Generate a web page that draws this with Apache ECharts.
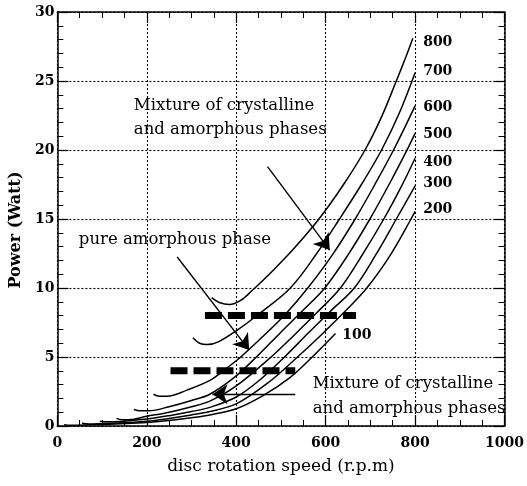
<!DOCTYPE html>
<html>
<head>
<meta charset="utf-8">
<script src="https://cdn.jsdelivr.net/npm/echarts@6/dist/echarts.min.js"></script>
<style>
  html, body { margin: 0; padding: 0; background: #fff; }
  #chart { width: 527px; height: 486px; }
</style>
</head>
<body>
<div id="chart"></div>
<script>
// ============================================
// Data
// ============================================
const xRange = [0, 1000];
const yRange = [0, 30];

// power vs. speed curves, [rpm, watt]
const curve800 = [[345, 9.3], [362, 8.95], [385, 8.8], [410, 9.1], [435, 9.8], [480, 11.2], [530, 12.9], [585, 15], [640, 17.5], [688, 20], [725, 22.4], [758, 25], [780, 26.8], [795, 28.1]];
const curve700 = [[303, 6.4], [318, 6.0], [335, 5.9], [360, 6.1], [400, 6.9], [450, 8.1], [521, 10], [580, 12.5], [631, 15], [680, 17.5], [725, 20], [765, 22.7], [800, 25.6]];
const curve600 = [[215, 2.3], [228, 2.15], [245, 2.15], [290, 2.6], [341, 3.3], [375, 4.1], [410, 5], [460, 6.5], [510, 8.1], [560, 10], [615, 12.4], [666, 15], [710, 17.5], [755, 20.2], [800, 23.2]];
const curve500 = [[171, 1.2], [185, 1.1], [205, 1.1], [250, 1.4], [300, 1.85], [341, 2.3], [395, 3.5], [445, 5], [500, 6.8], [550, 8.4], [598, 10], [650, 12.4], [699, 15], [745, 17.7], [785, 20.2], [800, 21.2]];
const curve400 = [[132, 0.55], [145, 0.45], [160, 0.45], [200, 0.7], [250, 1.0], [300, 1.4], [341, 1.8], [400, 2.9], [478, 5], [530, 6.6], [580, 8.2], [633, 10], [680, 12.3], [730, 15], [770, 17.4], [800, 19.4]];
const curve300 = [[95, 0.35], [110, 0.3], [150, 0.35], [200, 0.5], [250, 0.75], [300, 1.05], [341, 1.35], [400, 2.1], [455, 3.4], [508, 5], [560, 6.7], [610, 8.3], [664, 10], [712, 12.4], [758, 15], [800, 17.4]];
const curve200 = [[55, 0.2], [70, 0.15], [120, 0.2], [200, 0.35], [250, 0.55], [300, 0.8], [341, 1.05], [400, 1.6], [470, 3.1], [537, 5], [590, 6.6], [640, 8.2], [692, 10], [745, 12.4], [791, 15], [800, 15.55]];
const curve100 = [[15, 0.1], [30, 0.05], [100, 0.1], [200, 0.25], [250, 0.4], [300, 0.6], [341, 0.8], [400, 1.25], [460, 2.2], [520, 3.5], [570, 5], [622, 6.7]];

const curveNames = ['800', '700', '600', '500', '400', '300', '200', '100'];
const curveLabelAt = [[818, 27.8], [818, 25.7], [818, 23.1], [818, 21.1], [818, 19.1], [818, 17.6], [818, 15.7], [637, 6.6]];

// thick dashed boundaries
const boundaryHigh = [[330, 8], [668, 8]];
const boundaryLow = [[253, 4], [532, 4]];

// annotation arrows, [from, to]
const arrowTop = [[470, 18.8], [609, 12.75]];
const arrowPure = [[268, 12.25], [429, 5.5]];
const arrowBottom = [[532, 2.3], [347, 2.3]];

// annotation texts, anchored at their left edge
const notes = [
    { text: 'Mixture of crystalline', at: [171, 23.2] },
    { text: 'and amorphous phases', at: [171, 21.5] },
    { text: 'pure amorphous phase', at: [48, 13.5] },
    { text: 'Mixture of crystalline', at: [571, 3.1] },
    { text: 'and amorphous phases', at: [571, 1.25] }
];

// ============================================
// Chart
// ============================================
const FONT = 'DejaVu Serif';
const curves = [curve800, curve700, curve600, curve500, curve400, curve300, curve200, curve100];

function frameAxis(base, extra) {
    return Object.assign({
        axisLine: { show: true, onZero: false, lineStyle: { color: '#000', width: 1.5 } },
        axisTick: { show: true, inside: true, length: 11, lineStyle: { color: '#000', width: 1.2 } },
        minorTick: { show: true, length: 6, lineStyle: { color: '#000', width: 1 } },
        splitLine: { show: false }
    }, base, extra);
}

const xBase = { type: 'value', min: xRange[0], max: xRange[1], interval: 200 };
const yBase = { type: 'value', min: yRange[0], max: yRange[1], interval: 5 };

const option = {
    animation: false,
    backgroundColor: '#fff',
    grid: { left: 55, right: 17, top: 12, bottom: 60 },
    xAxis: [
        frameAxis(xBase, {
            position: 'bottom',
            name: 'disc rotation speed (r.p.m)',
            nameLocation: 'middle',
            nameGap: 32,
            nameTextStyle: { fontFamily: FONT, fontSize: 17, color: '#000' },
            axisLabel: { fontFamily: FONT, fontSize: 14, fontWeight: 'bold', color: '#000', margin: 10, formatter: v => String(v) },
            minorTick: { show: true, splitNumber: 4, length: 6, lineStyle: { color: '#000', width: 1 } },
            splitLine: { show: true, lineStyle: { color: '#000', width: 1.1, type: [2, 2] } }
        }),
        frameAxis(xBase, {
            position: 'top',
            axisLabel: { show: false },
            minorTick: { show: true, splitNumber: 4, length: 6, lineStyle: { color: '#000', width: 1 } }
        })
    ],
    yAxis: [
        frameAxis(yBase, {
            position: 'left',
            name: 'Power (Watt)',
            nameLocation: 'middle',
            nameGap: 33,
            nameTextStyle: { fontFamily: FONT, fontSize: 16, fontWeight: 'bold', color: '#000', padding: [0, 22, 0, 0] },
            axisLabel: { fontFamily: FONT, fontSize: 14, fontWeight: 'bold', color: '#000', margin: 3, padding: [6, 0, 0, 0] },
            minorTick: { show: true, splitNumber: 5, length: 6, lineStyle: { color: '#000', width: 1 } },
            splitLine: { show: true, lineStyle: { color: '#000', width: 1.1, type: [2, 2] } }
        }),
        frameAxis(yBase, {
            position: 'right',
            axisLabel: { show: false },
            minorTick: { show: true, splitNumber: 5, length: 6, lineStyle: { color: '#000', width: 1 } }
        })
    ],
    series: []
};

// power curves
curves.forEach((data, i) => {
    option.series.push({
        type: 'line',
        name: curveNames[i],
        data: data,
        smooth: 0.35,
        symbol: 'none',
        silent: true,
        lineStyle: { color: '#000', width: 1.5 }
    });
});

// dashed phase boundaries
[boundaryHigh, boundaryLow].forEach(data => {
    option.series.push({
        type: 'line',
        data: data,
        symbol: 'none',
        silent: true,
        lineStyle: { color: '#000', width: 7, type: [17, 6], cap: 'butt' }
    });
});

// arrows
option.series.push({
    type: 'lines',
    coordinateSystem: 'cartesian2d',
    silent: true,
    symbol: ['none', 'arrow'],
    symbolSize: [8, 15],
    lineStyle: { color: '#000', width: 1.4, opacity: 1, curveness: 0 },
    data: [arrowTop, arrowPure, arrowBottom].map(c => ({ coords: c }))
});

// text markers: scatter default opacity (0.8) would grey the labels
function textSeries(items, fontSize, fontWeight) {
    return {
        type: 'scatter',
        symbolSize: 0,
        silent: true,
        itemStyle: { opacity: 1 },
        data: items,
        label: {
            show: true, position: 'right', distance: 0, formatter: '{b}',
            fontFamily: FONT, fontSize: fontSize, fontWeight: fontWeight, color: '#000'
        }
    };
}

option.series.push(textSeries(curveLabelAt.map((p, i) => ({ value: p, name: curveNames[i] })), 14, 'bold'));
option.series.push(textSeries(notes.map(n => ({ value: n.at, name: n.text })), 16.5, 'normal'));

const chart = echarts.init(document.getElementById('chart'), null, { renderer: 'canvas' });
chart.setOption(option);
</script>
</body>
</html>
